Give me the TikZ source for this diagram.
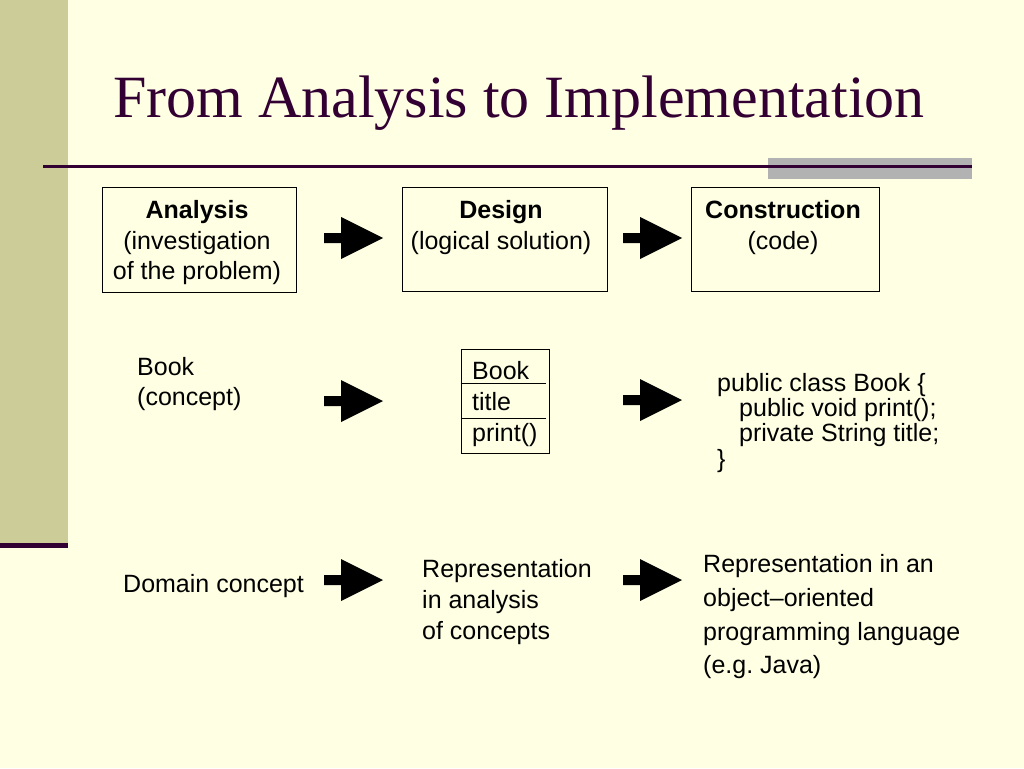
\documentclass[tikz,border=0pt]{standalone}
\usepackage{fontspec}
\setmainfont{Liberation Sans}
\newfontfamily\titlefont{Liberation Serif}
\definecolor{bgc}{RGB}{255,255,228}
\definecolor{sidec}{RGB}{204,204,153}
\definecolor{purpc}{RGB}{51,0,51}
\definecolor{greyc}{RGB}{178,178,178}
\frenchspacing
\newcommand\stk[3]{{\fontsize{25}{#2}\selectfont\begin{tabular}[t]{@{}#1@{}}#3\end{tabular}}}
\begin{document}
\begin{tikzpicture}[x=1pt,y=-1pt,
  lbl/.style={inner sep=0pt, anchor=base west},
  clbl/.style={inner sep=0pt, anchor=base},
  stagebox/.style={draw=black, line width=1pt, inner sep=0pt},
  blockarrow/.pic={\fill[black] (0,-5) -- (17,-5) -- (17,-21) -- (59,0) -- (17,21) -- (17,5) -- (0,5) -- cycle;}]
\fill[bgc] (0,0) rectangle (1024,768);
\useasboundingbox (0,0) rectangle (1024,768);
% sidebar
\fill[sidec] (0,0) rectangle (68,543);
\fill[purpc] (0,543) rectangle (68,548);
% title
\node[lbl, font=\titlefont\fontsize{60}{72}\selectfont, text=purpc] (title) at (113,117) {From Analysis to Implementation};
\fill[greyc] (768,158) rectangle (972,179);
\draw[purpc, line width=3pt] (43,166) -- (972,166);
% row 1 boxes
\node[stagebox, minimum width=194pt, minimum height=105pt] (anbox) at (199,239.5) {};
\node[stagebox, minimum width=205pt, minimum height=104pt] (debox) at (504.5,239) {};
\node[stagebox, minimum width=188pt, minimum height=104pt] (cobox) at (785,239) {};
\node[clbl] (antxt) at (197,218.5) {\stk{c}{30.5}{\textbf{Analysis}\\(investigation\\of the problem)}};
\node[clbl] (detxt) at (501,218.5) {\stk{c}{30.5}{\textbf{Design}\\(logical solution)}};
\node[clbl] (cotxt) at (783,218.5) {\stk{c}{30.5}{\textbf{Construction}\\(code)}};
% row 2
\node[lbl] (bookc) at (137,375) {\stk{l}{30}{Book\\(concept)}};
\node[stagebox, minimum width=88pt, minimum height=104pt] (uml) at (505,401) {};
\draw[line width=1pt] (uml.west |- 0,383) -- (546,383);
\draw[line width=1pt] (uml.west |- 0,418) -- (546,418);
\node[lbl] (umltxt) at (472,379) {\stk{l}{31}{Book\\title\\print()}};
\node[lbl] (code) at (717,391) {\stk{l}{24.5}{public class Book \{\\\hspace*{22pt}public void print();\\\hspace*{22pt}private String title;\\\}}};
% row 3
\node[lbl] (domain) at (123,592) {\stk{l}{30}{Domain concept}};
\node[lbl] (repan) at (422,577) {\stk{l}{31}{Representation\\in analysis\\of concepts}};
\node[lbl] (repoo) at (703,572.5) {\stk{l}{33.8}{Representation in an\\object–oriented\\programming language\\(e.g. Java)}};
% arrows
\coordinate (a1) at (324,238);
\coordinate (a2) at (623,238);
\coordinate (a3) at (324,401);
\coordinate (a4) at (623,400);
\coordinate (a5) at (324,580);
\coordinate (a6) at (623,580);
\foreach \c in {a1,a2,a3,a4,a5,a6} \pic at (\c) {blockarrow};
\end{tikzpicture}
\end{document}
